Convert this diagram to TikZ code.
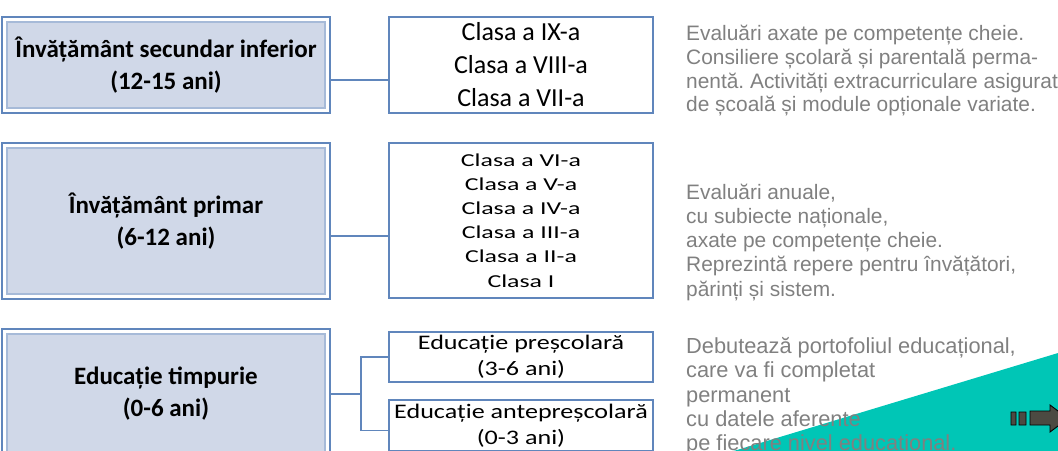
\documentclass[tikz,border=0pt]{standalone}
\usepackage{fontspec}
\newfontfamily\calibri{Carlito}
\newfontfamily\calwide[FakeStretch=1.42]{Carlito}
\newfontfamily\calmid[FakeStretch=1.26]{Carlito}
\newfontfamily\arial{Liberation Sans}
\frenchspacing
\definecolor{boxblue}{RGB}{96,134,188}
\definecolor{innerblue}{RGB}{166,186,216}
\definecolor{levelfill}{RGB}{208,216,232}
\definecolor{notegray}{RGB}{128,128,128}
\definecolor{bandteal}{RGB}{0,198,182}
\definecolor{arrowfill}{RGB}{76,74,66}
\tikzset{
levelbox/.style={draw=boxblue, line width=1.4pt, fill=white, inner sep=0pt, outer sep=0pt, anchor=north west, minimum width=328pt, align=center, font=\calibri\bfseries\fontsize{25}{32}\selectfont,
 path picture={\draw[innerblue, line width=1.2pt, fill=levelfill] ([shift={(5pt,-5pt)}]path picture bounding box.north west) rectangle ([shift={(-5pt,5pt)}]path picture bounding box.south east);}},
classbox/.style={draw=boxblue, line width=1.4pt, fill=white, inner sep=0pt, outer sep=0pt, anchor=north west, minimum width=264pt, align=center},
link/.style={boxblue, line width=1.3pt},
note/.style={anchor=north west, inner sep=0pt, align=left, text=notegray, font=\arial\fontsize{20.9}{23.7}\selectfont}
}
\begin{document}
\begin{tikzpicture}[x=1pt,y=-1pt]
\useasboundingbox (0,0) rectangle (1058,450);
\clip (0,0) rectangle (1058,450);
\fill[bandteal] (730,452.1) -- (1070,349.4) -- (1070,460) -- (730,460) -- cycle;
\filldraw[fill=arrowfill, draw=black, line width=0.9pt] (1011,412) rectangle (1016,425) (1019,412) rectangle (1026,425) (1030,411) -- (1050,411) -- (1050,405) -- (1068,418.5) -- (1050,432) -- (1050,425) -- (1030,425) -- cycle;
\node[levelbox, minimum height=96pt] (secundar) at (2,17) {Învățământ secundar inferior\\(12-15 ani)};
\node[levelbox, minimum height=156pt] (primar) at (2,143) {Învățământ primar\\(6-12 ani)};
\node[levelbox, minimum height=130pt] (timpurie) at (2,329) {Educație timpurie\\(0-6 ani)};
\node[classbox, minimum height=96pt, font=\calibri\fontsize{26}{33}\selectfont] (gimnaziu) at (389,17) {Clasa a IX-a\\Clasa a VIII-a\\Clasa a VII-a};
\node[classbox, minimum height=155pt, font=\calwide\fontsize{18.2}{24.1}\selectfont] (clase) at (389,143) {Clasa a VI-a\\Clasa a V-a\\Clasa a IV-a\\Clasa a III-a\\Clasa a II-a\\Clasa I};
\node[classbox, minimum height=50pt, font=\calmid\fontsize{20.7}{25.6}\selectfont] (prescolar) at (389,332) {Educație preșcolară\\(3-6 ani)};
\node[classbox, minimum height=51pt, font=\calmid\fontsize{20.7}{25.6}\selectfont] (antepre) at (389,400) {Educație antepreșcolară\\(0-3 ani)};
\draw[link] ([yshift=-15pt]secundar.east) -- ([yshift=-15pt]secundar.east -| gimnaziu.west);
\draw[link] ([yshift=-15pt]primar.east) -- ([yshift=-15pt]primar.east -| clase.west);
\draw[link] (timpurie.east) -- ++(31,0) coordinate (ramura);
\draw[link] (prescolar.west) -| (ramura) |- ([yshift=-5pt]antepre.west);
\node[note] (notasec) at (686,25.2) {Evaluări axate pe competențe cheie.\\Consiliere școlară și parentală perma-\\nentă. Activități extracurriculare asigurate\\de școală și module opționale variate.};
\node[note, font=\arial\fontsize{20.9}{24.2}\selectfont] (notaprim) at (686,183.7) {Evaluări anuale,\\cu subiecte naționale,\\axate pe competențe cheie.\\Reprezintă repere pentru învățători,\\părinți și sistem.};
\node[note, font=\arial\fontsize{21.8}{24.2}\selectfont] (notatimp) at (686,337.5) {Debutează portofoliul educațional,\\care va fi completat\\permanent\\cu datele aferente\\pe fiecare nivel educațional.};
\end{tikzpicture}
\end{document}
